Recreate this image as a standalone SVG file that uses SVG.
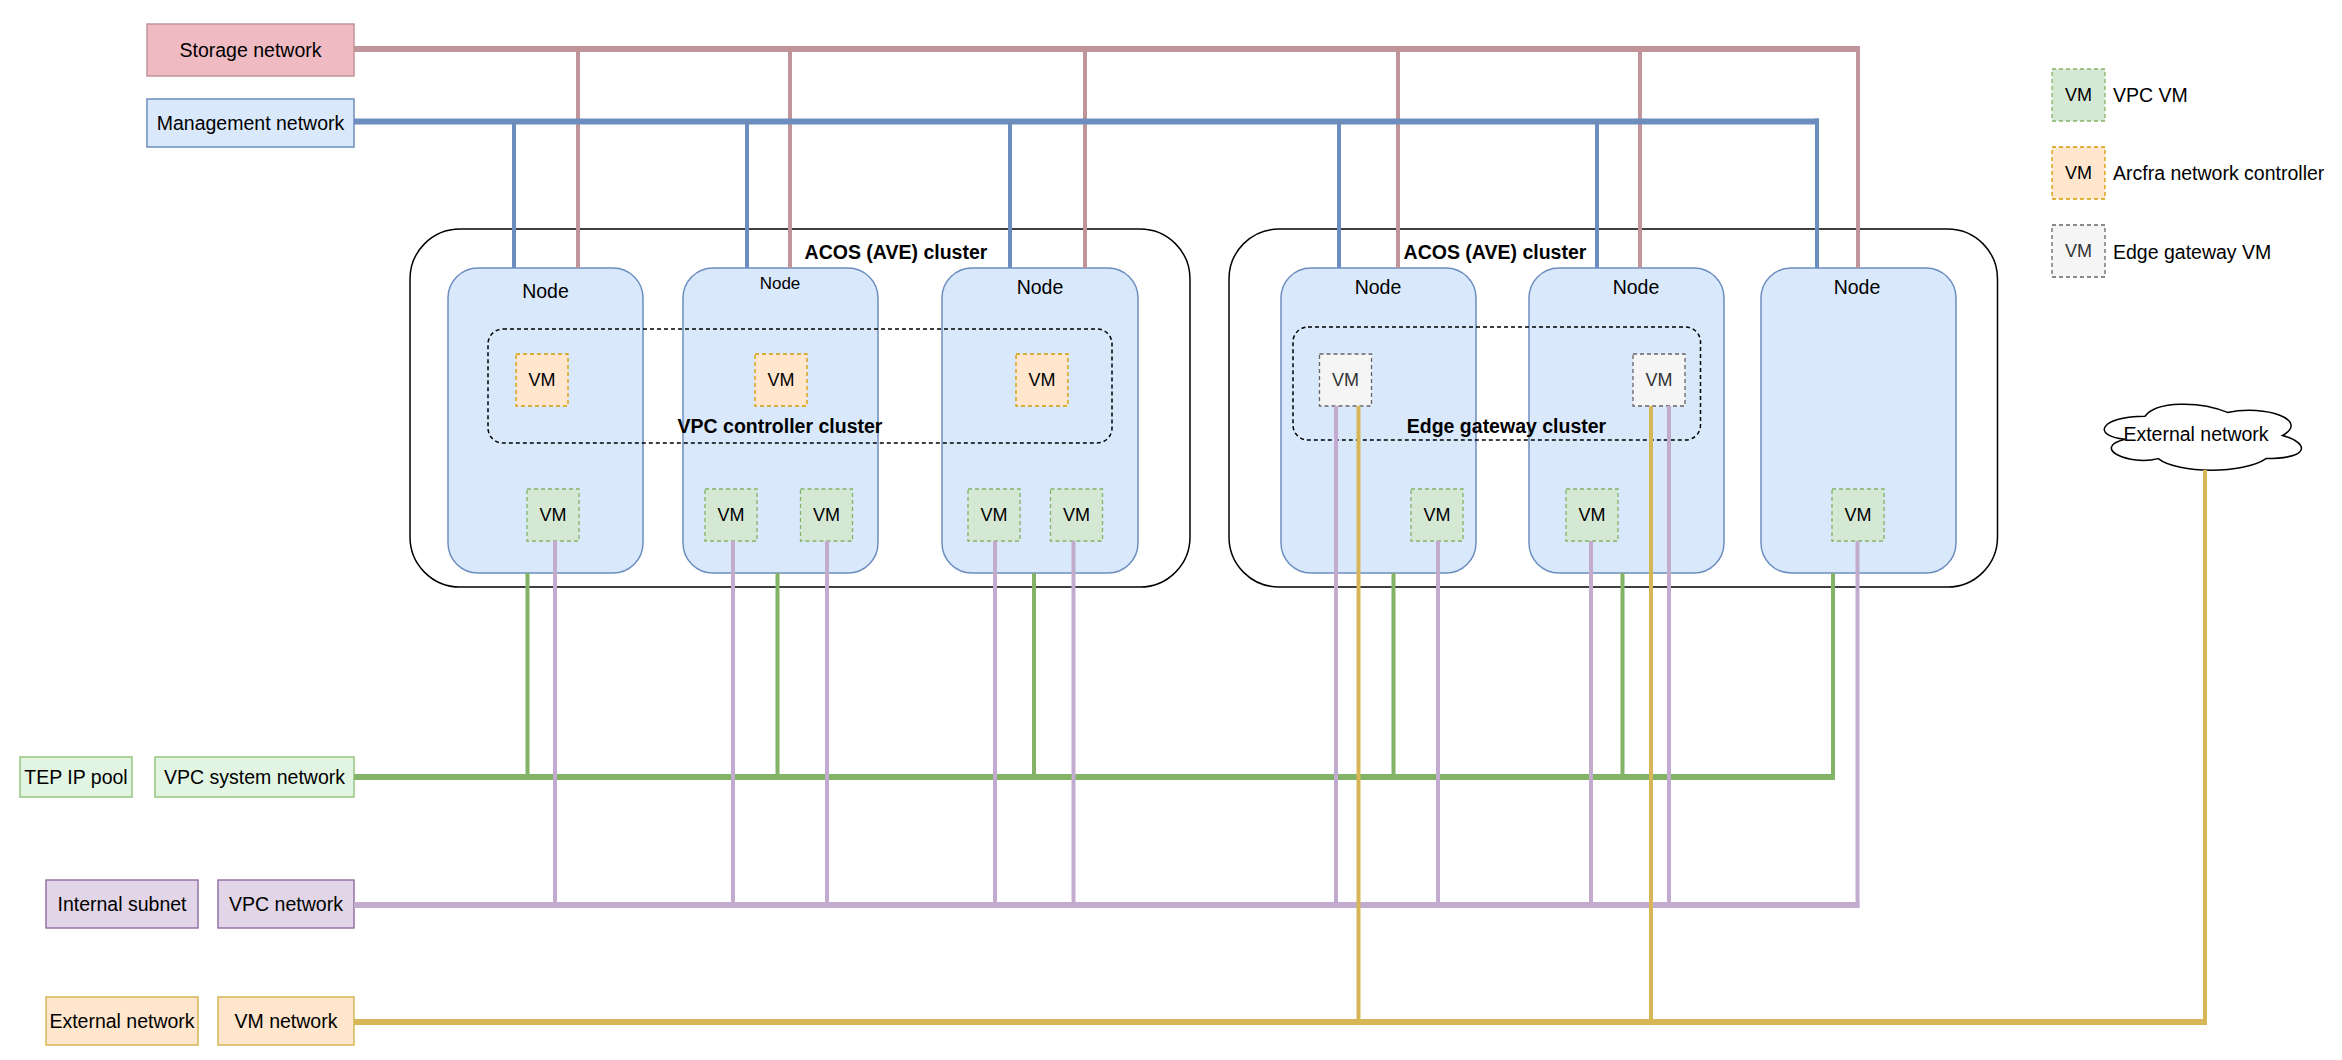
<svg xmlns="http://www.w3.org/2000/svg" width="2342" height="1060" viewBox="0 0 2342 1060">
<style>
text{font-family:"Liberation Sans",Arial,Helvetica,sans-serif;font-size:19.5px;fill:#000}
.c{text-anchor:middle;dominant-baseline:central}
.l{dominant-baseline:central}
.b{font-weight:bold}
.vt{font-size:18px}
.cluster{fill:#fff;stroke:#000;stroke-width:1.5}
.node{fill:#dae8fc;stroke:#6c8ebf;stroke-width:1.5}
.dc{fill:none;stroke:#000;stroke-width:1.5;stroke-dasharray:4 3}
.vg{fill:#d5e8d4;stroke:#82b366;stroke-width:1.3;stroke-dasharray:4 3}
.vo{fill:#ffe6cc;stroke:#d79b00;stroke-width:1.3;stroke-dasharray:4 3}
.vw{fill:#f5f5f5;stroke:#666;stroke-width:1.3;stroke-dasharray:4 3}
.gray{fill:#333}
.ls{stroke:#c0959a}.lm{stroke:#6c8ebf}.lg{stroke:#82b366}.lp{stroke:#c3abd0}.ly{stroke:#d6b656}
.h{fill:none;stroke-width:6}
.v{fill:none;stroke-width:4}
</style>

<g id="legend">
  <rect class="vg" x="2052" y="69" width="53" height="52"/>
  <text class="c vt" x="2078.5" y="95">VM</text>
  <text class="l" x="2113" y="95">VPC VM</text>
  <rect class="vo" x="2052" y="147" width="53" height="52"/>
  <text class="c vt" x="2078.5" y="173">VM</text>
  <text class="l" x="2113" y="173">Arcfra network controller</text>
  <rect class="vw" x="2052" y="225" width="53" height="52"/>
  <text class="c vt gray" x="2078.5" y="251">VM</text>
  <text class="l" x="2113" y="252">Edge gateway VM</text>
</g>

<g id="storage-network">
  <rect x="147" y="24" width="207" height="52" fill="#efbac2" stroke="#c0959a" stroke-width="1.5"/>
  <text class="c" x="250.5" y="50">Storage network</text>
</g>
<g id="management-network">
  <rect x="147" y="99" width="207" height="48" fill="#dae8fc" stroke="#6c8ebf" stroke-width="1.5"/>
  <text class="c" x="250.5" y="123">Management network</text>
</g>
<g id="tep-ip-pool">
  <rect x="20" y="757" width="112" height="40" fill="#e2f5e2" stroke="#97c47f" stroke-width="1.5"/>
  <text class="c" x="76" y="777">TEP IP pool</text>
</g>
<g id="vpc-system-network">
  <rect x="155" y="757" width="199" height="40" fill="#e2f5e2" stroke="#97c47f" stroke-width="1.5"/>
  <text class="c" x="254.5" y="777">VPC system network</text>
</g>
<g id="internal-subnet">
  <rect x="46" y="880" width="152" height="48" fill="#e1d5e7" stroke="#9673a6" stroke-width="1.5"/>
  <text class="c" x="122" y="904">Internal subnet</text>
</g>
<g id="vpc-network">
  <rect x="218" y="880" width="136" height="48" fill="#e1d5e7" stroke="#9673a6" stroke-width="1.5"/>
  <text class="c" x="286" y="904">VPC network</text>
</g>
<g id="external-network-box">
  <rect x="46" y="997" width="152" height="48" fill="#ffe6cc" stroke="#d6b656" stroke-width="1.5"/>
  <text class="c" x="122" y="1021">External network</text>
</g>
<g id="vm-network">
  <rect x="218" y="997" width="136" height="48" fill="#ffe6cc" stroke="#d6b656" stroke-width="1.5"/>
  <text class="c" x="286" y="1021">VM network</text>
</g>

<g id="external-network-cloud">
  <path d="M2145,416.25 C2101,416.25 2090,435.5 2125.2,439.35 C2090,447.8 2129.6,466.3 2158.2,458.6 C2178,474 2244,474 2266,458.6 C2310,458.6 2310,443.2 2282.5,435.5 C2310,420.1 2266,404.7 2227.5,412.4 C2200,400.85 2156,400.85 2145,416.25 Z" fill="#fff" stroke="#000" stroke-width="1.5"/>
  <text class="c" x="2196" y="434">External network</text>
</g>

<g id="acos-cluster-1">
  <rect class="cluster" x="410" y="229" width="780" height="358" rx="50"/>
  <text class="c b" x="896" y="252">ACOS (AVE) cluster</text>
</g>
<g id="acos-cluster-2">
  <rect class="cluster" x="1229" y="229" width="768.5" height="358" rx="50"/>
  <text class="c b" x="1495" y="252">ACOS (AVE) cluster</text>
</g>

<g id="node-1">
  <rect class="node" x="448" y="268" width="195" height="305" rx="30"/>
  <text class="c" x="545.5" y="291">Node</text>
</g>
<g id="node-2">
  <rect class="node" x="683" y="268" width="195" height="305" rx="30"/>
  <text class="c" x="780" y="283" style="font-size:17px">Node</text>
</g>
<g id="node-3">
  <rect class="node" x="942" y="268" width="196" height="305" rx="30"/>
  <text class="c" x="1040" y="287">Node</text>
</g>
<g id="node-4">
  <rect class="node" x="1281" y="268" width="195" height="305" rx="30"/>
  <text class="c" x="1378" y="287">Node</text>
</g>
<g id="node-5">
  <rect class="node" x="1529" y="268" width="195" height="305" rx="30"/>
  <text class="c" x="1636" y="287">Node</text>
</g>
<g id="node-6">
  <rect class="node" x="1761" y="268" width="195" height="305" rx="30"/>
  <text class="c" x="1857" y="287">Node</text>
</g>

<g id="vpc-controller-cluster">
  <rect class="dc" x="488" y="329" width="624" height="114" rx="15"/>
  <text class="c b" x="780" y="426">VPC controller cluster</text>
</g>
<g id="edge-gateway-cluster">
  <rect class="dc" x="1293" y="327" width="407.5" height="113" rx="15"/>
  <text class="c b" x="1506.5" y="426">Edge gateway cluster</text>
</g>

<g id="controller-vm-1"><rect class="vo" x="516" y="354" width="52" height="52"/><text class="c vt" x="542" y="380">VM</text></g>
<g id="controller-vm-2"><rect class="vo" x="755" y="354" width="52" height="52"/><text class="c vt" x="781" y="380">VM</text></g>
<g id="controller-vm-3"><rect class="vo" x="1016" y="354" width="52" height="52"/><text class="c vt" x="1042" y="380">VM</text></g>
<g id="edge-vm-1"><rect class="vw" x="1319.5" y="354" width="52" height="52"/><text class="c vt gray" x="1345.5" y="380">VM</text></g>
<g id="edge-vm-2"><rect class="vw" x="1633" y="354" width="52" height="52"/><text class="c vt gray" x="1659" y="380">VM</text></g>

<g id="vpc-vm-1"><rect class="vg" x="527" y="489" width="52" height="52"/><text class="c vt" x="553" y="515">VM</text></g>
<g id="vpc-vm-2"><rect class="vg" x="705" y="489" width="52" height="52"/><text class="c vt" x="731" y="515">VM</text></g>
<g id="vpc-vm-3"><rect class="vg" x="800.5" y="489" width="52" height="52"/><text class="c vt" x="826.5" y="515">VM</text></g>
<g id="vpc-vm-4"><rect class="vg" x="968" y="489" width="52" height="52"/><text class="c vt" x="994" y="515">VM</text></g>
<g id="vpc-vm-5"><rect class="vg" x="1050.5" y="489" width="52" height="52"/><text class="c vt" x="1076.5" y="515">VM</text></g>
<g id="vpc-vm-6"><rect class="vg" x="1411" y="489" width="52" height="52"/><text class="c vt" x="1437" y="515">VM</text></g>
<g id="vpc-vm-7"><rect class="vg" x="1566" y="489" width="52" height="52"/><text class="c vt" x="1592" y="515">VM</text></g>
<g id="vpc-vm-8"><rect class="vg" x="1832" y="489" width="52" height="52"/><text class="c vt" x="1858" y="515">VM</text></g>

<g id="connectors">
  <!-- storage -->
  <path class="ls h" d="M354,49 H1858"/>
  <path class="ls v" d="M578,49 V268 M790,49 V268 M1085,49 V268 M1398,49 V268 M1640,49 V268 M1858,46 V268"/>
  <!-- management -->
  <path class="lm h" d="M354,121.5 H1819"/>
  <path class="lm v" d="M514,121.5 V268 M747,121.5 V268 M1010,121.5 V268 M1339,121.5 V268 M1597,121.5 V268 M1817,118.5 V268"/>
  <!-- VPC system network -->
  <path class="lg h" d="M354,777 H1835"/>
  <path class="lg v" d="M527.5,573 V777 M777.5,573 V777 M1034,573 V777 M1393.5,573 V777 M1622.5,573 V777 M1833,573 V779"/>
  <!-- VPC network -->
  <path class="lp h" d="M354,905 H1859.5"/>
  <path class="lp v" d="M555,541 V905 M733,541 V905 M827,541 V905 M995,541 V905 M1073.5,541 V905 M1336,406 V905 M1438,541 V905 M1591,541 V905 M1669,406 V905 M1857.5,541 V907"/>
  <!-- VM network -->
  <path class="ly h" d="M354,1022 H2207"/>
  <path class="ly v" d="M1358.5,406 V1022 M1651,406 V1022 M2205,470 V1024"/>
</g>
</svg>
